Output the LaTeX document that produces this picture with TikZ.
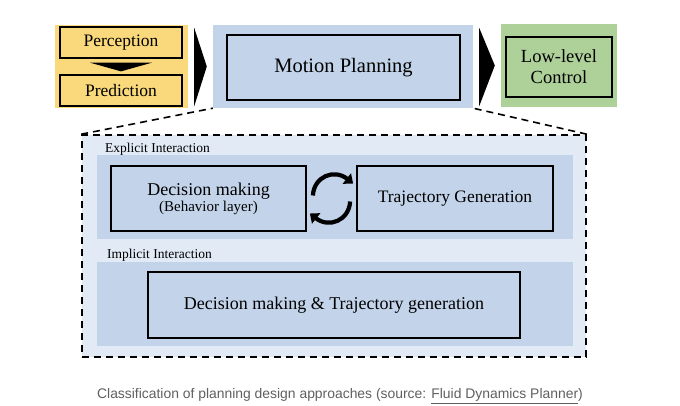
\documentclass[tikz,border=0pt]{standalone}
\usepackage{fontspec}
\setmainfont{Liberation Serif}
\newfontfamily\captionfont{Liberation Sans}
\usetikzlibrary{arrows.meta,positioning,calc}
\definecolor{pYellow}{HTML}{F9D97B}
\definecolor{pBlue}{HTML}{C3D4EA}
\definecolor{pPale}{HTML}{E1EAF5}
\definecolor{pGreen}{HTML}{AED19A}
\definecolor{pGray}{HTML}{5F5F5F}

\begin{document}
\begin{tikzpicture}[x=1pt,y=-1pt,
    panel/.style={inner sep=0pt, minimum width=#1},
    stage/.style={draw=black, line width=2.3pt, inner sep=0pt, align=center, minimum width=#1},
    tag/.style={anchor=west, inner sep=0pt, font=\fontsize{13.5}{15}\selectfont},
    cyc/.style={line width=4.2pt, -{Triangle[length=8pt,width=13pt]}}]
  \useasboundingbox (0,0) rectangle (680,405);

  % top row
  \node[panel=133pt, minimum height=83pt, fill=pYellow] (yellowbg) at (121.5,66.5) {};
  \node[stage=122pt, minimum height=31pt, font=\fontsize{17.5}{19}\selectfont] (percep) at (121,42.5) {Perception};
  \node[stage=122pt, minimum height=31pt, font=\fontsize{17.5}{19}\selectfont] (predic) at (121,90.5) {Prediction};
  \fill ($(percep.south)+(-31,3.5)$) -- ($(percep.south)+(31,3.5)$) -- ($(predic.north)+(0,-2.5)$) -- cycle;

  \node[panel=260pt, minimum height=83pt, fill=pBlue] (motionbg) at (343,66.5) {};
  \node[stage=233pt, minimum height=65pt, line width=2.8pt, font=\fontsize{20.5}{22}\selectfont] (motion) at (343.5,67.5) {Motion Planning};

  \node[panel=116pt, minimum height=83pt, fill=pGreen] (greenbg) at (559,65.5) {};
  \node[stage=106pt, minimum height=60pt, font=\fontsize{18.5}{21}\selectfont] (lowctrl) at (559,67) {Low-level\\Control};

  \foreach \a/\b in {yellowbg/motionbg, motionbg/greenbg}{
    \fill ($(\a.north east)+(6,3)$) -- ($(\b.west)+(-6,0)$) -- ($(\a.south east)+(6,-2)$) -- cycle;
  }

  % classification of planning approaches
  \node[panel=504pt, minimum height=222pt, fill=pPale, draw=black, line width=1.6pt, dash pattern=on 7pt off 5pt] (approach) at (334,246) {};
  \draw[line width=1.6pt, dash pattern=on 7pt off 5pt] (approach.north west) -- (motionbg.south west);
  \draw[line width=1.6pt, dash pattern=on 7pt off 5pt] (approach.north east) -- (motionbg.south east);

  \node[panel=476pt, minimum height=84pt, fill=pBlue] (explicitbg) at (335,197) {};
  \node[tag] (explicit) at (105,149) {Explicit Interaction};
  \node[stage=195pt, minimum height=65pt, line width=1.8pt, font=\fontsize{18}{17}\selectfont] (decision) at (208.5,198.5)
    {Decision making\\[-1pt]{\fontsize{15}{17}\selectfont (Behavior layer)}};
  \node[stage=196pt, minimum height=65pt, line width=1.8pt, font=\fontsize{17.5}{19}\selectfont] (trajgen) at (455,198.5) {Trajectory Generation};
  \draw[cyc] ($(decision.east)+(6,-3)$) .. controls ($(decision.east)+(7,-22)$) and ($(trajgen.west)+(-22,-30)$) .. ($(trajgen.west)+(-3,-15)$);
  \draw[cyc] ($(trajgen.west)+(-6,3)$) .. controls ($(trajgen.west)+(-7,22)$) and ($(decision.east)+(22,30)$) .. ($(decision.east)+(3,15)$);

  \node[panel=476pt, minimum height=84pt, fill=pBlue] (implicitbg) at (335,304) {};
  \node[tag] (implicit) at (107,255) {Implicit Interaction};
  \node[stage=372pt, minimum height=66pt, line width=1.8pt, font=\fontsize{18}{20}\selectfont] (joint) at (334,305)
    {Decision making \& Trajectory generation};

  \node[text=pGray, font=\captionfont\fontsize{13.9}{15}\selectfont] (caption) at (340,396)
    {Classification of planning design approaches (source: \underline{Fluid Dynamics Planner})};
\end{tikzpicture}
\end{document}
